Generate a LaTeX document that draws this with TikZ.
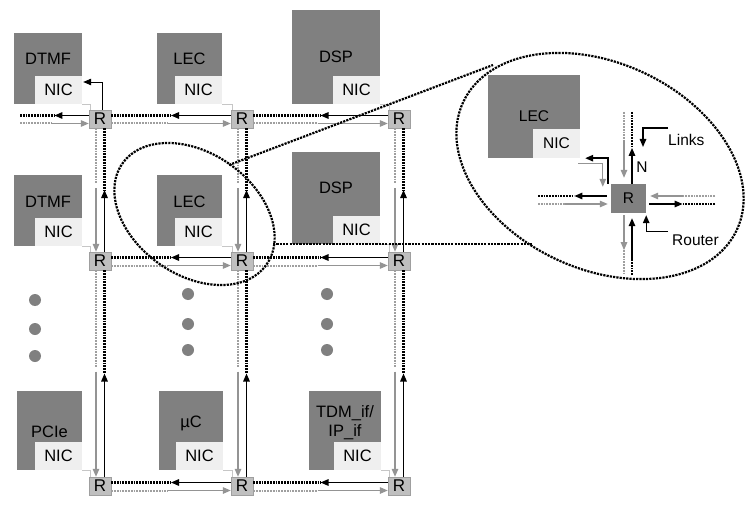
\documentclass[tikz,border=0pt]{standalone}
\usepackage{fontspec}
\setmainfont{Liberation Sans}
\usetikzlibrary{positioning,arrows.meta,shapes.geometric,calc}
\definecolor{coregray}{HTML}{808080}
\definecolor{nicgray}{HTML}{EFEFEF}
\definecolor{rtrgray}{HTML}{BFBFBF}
\definecolor{lnkgray}{HTML}{949494}

\begin{document}
\begin{tikzpicture}[x=1pt,y=-1pt,>={Triangle[length=8pt,width=6.5pt]},
	core/.style={fill=coregray, inner sep=0},
	nic/.style={fill=nicgray, minimum width=47, minimum height=28, inner sep=0, font=\fontsize{16.5}{19}\selectfont},
	lbl/.style={inner sep=0, align=center, font=\fontsize{16.5}{19}\selectfont},
	big/.style={inner sep=0, font=\fontsize{15.5}{18}\selectfont},
	rtr/.style={fill=rtrgray, draw=gray!75, line width=0.4pt, minimum width=22, minimum height=18, inner sep=0, font=\fontsize{17}{19}\selectfont},
	rbig/.style={fill=coregray, minimum width=35, minimum height=29, inner sep=0, font=\fontsize{15.5}{18}\selectfont},
	bdash/.style={black, line width=2.6pt, dash pattern=on 1.8pt off 1pt},
	gdash/.style={lnkgray!90, line width=2pt, dash pattern=on 1.8pt off 1pt},
	bout/.style={black, line width=1.4pt, ->},
	gin/.style={lnkgray, line width=1.3pt, ->},
	ptr/.style={black, line width=1.4pt, ->},
	tie/.style={gray!45, line width=0.6pt},
	dotmark/.style={circle, fill=coregray, minimum size=12, inner sep=0},
	lens/.style={draw, ellipse, inner sep=0, line width=2.2pt, dash pattern=on 2.2pt off 1.1pt},
	zoomline/.style={black, line width=2.2pt, dash pattern=on 2.2pt off 1.1pt}]

	\fill[white] (0,0) rectangle (746,513);
	\useasboundingbox (0,0) rectangle (746,513);

	% processing blocks
	\node[core, minimum width=68, minimum height=71] (dtmfA) at (48,68.5) {};
	\node[core, minimum width=65, minimum height=71] (lecA) at (189.5,68.5) {};
	\node[core, minimum width=88, minimum height=94] (dspA) at (336,57) {};

	\node[core, minimum width=68, minimum height=71] (dtmfB) at (48,210.5) {};
	\node[core, minimum width=65, minimum height=71] (lecB) at (189.5,210.5) {};
	\node[core, minimum width=88, minimum height=92] (dspB) at (336,198) {};

	\node[core, minimum width=65, minimum height=79] (pcie) at (49.5,430.5) {};
	\node[core, minimum width=64, minimum height=79] (muc) at (191,430.5) {};
	\node[core, minimum width=72, minimum height=79] (tdm) at (345,430.5) {};

	\node[lbl] (dtmfAt) at (48,59) {DTMF};
	\node[lbl] (lecAt) at (189.5,59) {LEC};
	\node[lbl] (dspAt) at (336,57) {DSP};
	\node[lbl] (dtmfBt) at (48,202) {DTMF};
	\node[lbl] (lecBt) at (189.5,202) {LEC};
	\node[lbl] (dspBt) at (336,188) {DSP};
	\node[lbl] (pciet) at (49.5,432) {PCIe};
	\node[lbl] (muct) at (191,423) {µC};
	\node[lbl] (tdmt) at (345,422.5) {TDM\_if/\\IP\_if};

	% network interfaces
	\node[nic, anchor=south east] (nicDtmfA) at (dtmfA.south east) {NIC};
	\node[nic, anchor=south east] (nicLecA) at (lecA.south east) {NIC};
	\node[nic, anchor=south east] (nicDspA) at (dspA.south east) {NIC};
	\node[nic, anchor=south east] (nicDtmfB) at (dtmfB.south east) {NIC};
	\node[nic, anchor=south east] (nicLecB) at (lecB.south east) {NIC};
	\node[nic, anchor=south east] (nicDspB) at (dspB.south east) {NIC};
	\node[nic, anchor=south east] (nicPcie) at (pcie.south east) {NIC};
	\node[nic, anchor=south east] (nicMuc) at (muc.south east) {NIC};
	\node[nic, anchor=south east] (nicTdm) at (tdm.south east) {NIC};

	% routers
	\node[rtr] (r11) at (100,119) {R};
	\node[rtr] (r12) at (242,119) {R};
	\node[rtr] (r13) at (399,119) {R};
	\node[rtr] (r21) at (100,261) {R};
	\node[rtr] (r22) at (242,261) {R};
	\node[rtr] (r23) at (399,261) {R};
	\node[rtr] (r31) at (100,486) {R};
	\node[rtr] (r32) at (242,486) {R};
	\node[rtr] (r33) at (399,486) {R};

	\foreach \n/\r in {nicDtmfA/r11, nicLecA/r12, nicDspA/r13, nicDtmfB/r21, nicLecB/r22, nicDspB/r23, nicPcie/r31, nicMuc/r32, nicTdm/r33}
		\draw[tie] (\n.south east) -| ([xshift=1pt]\r.north west);

	\draw[black, line width=0.9pt, ->] ([xshift=2pt]r11.north) |- ([shift={(1pt,8pt)}]nicDtmfA.east);

	% links
	\coordinate (inA) at (20,119);
	\foreach \a/\b in {inA/r11, r11/r12, r12/r13, r21/r22, r22/r23, r31/r32, r32/r33}{
		\coordinate (m) at ($(\a.east)!0.5!(\b.west)$);
		\draw[bdash] ([yshift=3.5pt]\a.east) -- ([yshift=3.5pt]m);
		\draw[bout] ([yshift=3.5pt]\b.west) -- ([yshift=3.5pt]m);
		\draw[gdash] ([yshift=-4.5pt]\a.east) -- ([shift={(-3pt,-4.5pt)}]m);
		\draw[gin] ([shift={(-3pt,-4.5pt)}]m) -- ([yshift=-4.5pt]\b.west);
	}
	\foreach \a/\b in {r11/r21, r12/r22, r13/r23, r21/r31, r22/r32, r23/r33}{
		\coordinate (m) at ($(\a.south)!0.5!(\b.north)$);
		\draw[bdash] ([xshift=4.5pt]\a.south) -- ([xshift=4.5pt]m);
		\draw[bout] ([xshift=4.5pt]\b.north) -- ([xshift=4.5pt]m);
		\draw[gdash] ([xshift=-4pt]\a.south) -- ([shift={(-4pt,6pt)}]m);
		\draw[gin] ([shift={(-4pt,2pt)}]m) -- ([xshift=-4pt]\b.north);
	}

	% more rows
	\foreach \i/\x/\y in {1/35/300, 2/35/329, 3/35/356, 4/188/294, 5/188/324, 6/188/350, 7/327/294, 8/327/324, 9/327/350}
		\node[dotmark] (dot\i) at (\x,\y) {};

	% close-up of one tile
	\node[core, minimum width=92, minimum height=83, font=\fontsize{15.5}{18}\selectfont] (lecZ) at (534,116.5) {LEC};
	\node[nic, anchor=south east, minimum height=29, font=\fontsize{15.5}{18}\selectfont] (nicZ) at (lecZ.south east) {NIC};
	\node[rbig] (rZ) at (628.5,198.5) {R};

	\coordinate (zN) at (628.5,112);
	\coordinate (zS) at (628.5,275);
	\coordinate (zW) at (538,198.5);
	\coordinate (zE) at (715,198.5);

	\coordinate (mN) at ($(zN)!0.5!(rZ.north)$);
	\draw[bdash] ([xshift=3.5pt]zN) -- ([xshift=3.5pt]mN);
	\draw[bout] ([xshift=3.5pt]rZ.north) -- ([xshift=3.5pt]mN);
	\draw[gdash] ([xshift=-4.5pt]zN) -- ([shift={(-4.5pt,8pt)}]mN);
	\draw[gin] ([shift={(-4.5pt,8pt)}]mN) -- ([shift={(-4.5pt,6pt)}]rZ.north);

	\coordinate (mW) at ($(zW)!0.5!(rZ.west)$);
	\draw[bdash] ([yshift=2.5pt]zW) -- ([yshift=2.5pt]mW);
	\draw[bout] ([shift={(-4pt,2.5pt)}]rZ.west) -- ([yshift=2.5pt]mW);
	\draw[gdash] ([yshift=-5.5pt]zW) -- ([shift={(-9pt,-5.5pt)}]mW);
	\draw[gin] ([shift={(-9pt,-5.5pt)}]mW) -- ([shift={(-3pt,-5.5pt)}]rZ.west);

	\coordinate (mE) at ($(zE)!0.5!(rZ.east)$);
	\draw[gdash] ([yshift=2.5pt]zE) -- ([shift={(2pt,2.5pt)}]mE);
	\draw[gin] ([shift={(2pt,2.5pt)}]mE) -- ([shift={(4pt,2.5pt)}]rZ.east);
	\draw[bdash] ([yshift=-5.5pt]zE) -- ([shift={(2pt,-5.5pt)}]mE);
	\draw[bout] ([shift={(3pt,-5.5pt)}]rZ.east) -- ([shift={(2pt,-5.5pt)}]mE);

	\coordinate (mS) at ($(zS)!0.5!(rZ.south)$);
	\draw[gin] ([shift={(-4.5pt,-2pt)}]rZ.south) -- ([shift={(-4.5pt,-6pt)}]mS);
	\draw[gdash] ([shift={(-4.5pt,-6pt)}]mS) -- ([xshift=-4.5pt]zS);
	\draw[bdash] ([xshift=3.5pt]zS) -- ([shift={(3.5pt,-14pt)}]mS);
	\draw[bout] ([shift={(3.5pt,-14pt)}]mS) -- ([shift={(3.5pt,-5pt)}]rZ.south);

	\draw[bout] ([xshift=-3pt]rZ.north west) |- ([xshift=5pt]nicZ.south east);
	\draw[gin] ([shift={(-2pt,-5pt)}]nicZ.south east) -| ([shift={(-8pt,-3pt)}]rZ.north west);

	\node[big] (nlbl) at (642,167) {N};
	\node[big, anchor=west] (links) at (668,140) {Links};
	\node[big, anchor=west] (router) at (672,240) {Router};
	\coordinate (linksTip) at (643,147);
	\draw[ptr] ([yshift=6pt]links.north west) -| (linksTip);
	\draw[ptr] ([shift={(-4pt,3pt)}]router.north west) -| ([yshift=-2pt]rZ.south east);

	% magnifier
	\node[lens, minimum width=176, minimum height=122, rotate=-35] (lensS) at (194.5,214) {};
	\node[lens, minimum width=302, minimum height=206, rotate=-25] (lensB) at (600,166) {};
	\coordinate (zs1) at (229,165);
	\coordinate (zb1) at (493,65);
	\coordinate (zs2) at (273,244);
	\coordinate (zb2) at (532,244);
	\draw[zoomline] (zs1) -- (zb1);
	\draw[zoomline] (zs2) -- (zb2);

\end{tikzpicture}
\end{document}
